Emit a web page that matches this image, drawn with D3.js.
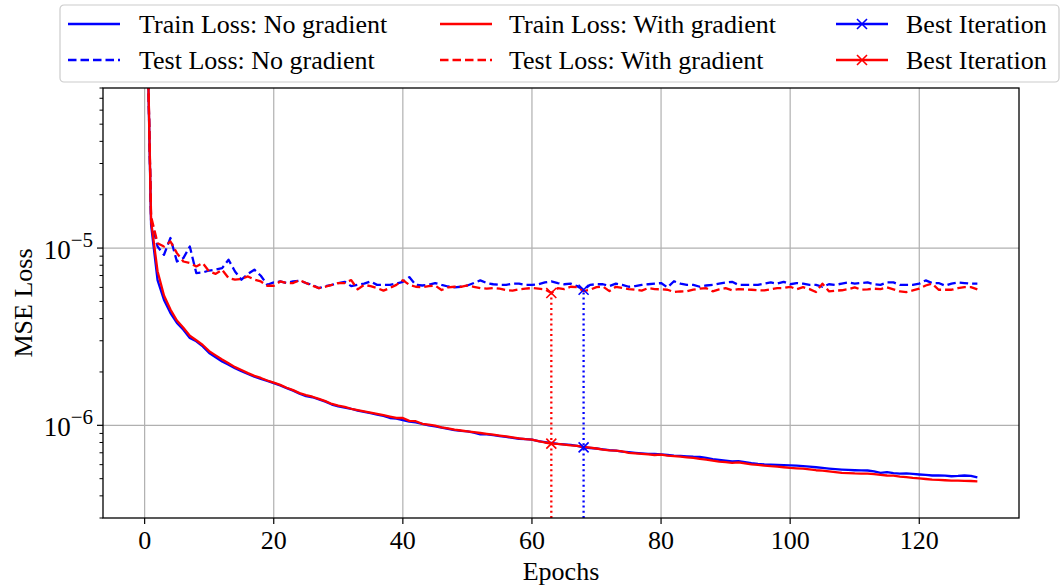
<!DOCTYPE html>
<html><head><meta charset="utf-8">
<script src="https://cdn.jsdelivr.net/npm/d3@7"></script>
<style>
body{margin:0;background:#fff}
svg text{font-family:"Liberation Serif","Times New Roman",serif;fill:#000}
</style>
</head><body>
<svg id="c" width="1062" height="587"></svg>
<script>
// values in units of 1e-6 (MSE loss)
const epochs = d3.range(0, 130);
const trainNoGrad = [1000, 13.5, 6.6, 5.1, 4.3, 3.78, 3.46, 3.11, 2.98, 2.79,
 2.56, 2.42, 2.29, 2.2, 2.1, 2.02, 1.95, 1.88, 1.83, 1.78,
 1.73, 1.68, 1.62, 1.57, 1.51, 1.46, 1.44, 1.40, 1.36, 1.31,
 1.28, 1.26, 1.24, 1.21, 1.19, 1.17, 1.15, 1.13, 1.10, 1.09,
 1.07, 1.05, 1.04, 1.02, 1.00, 0.985, 0.97, 0.955, 0.94, 0.93,
 0.925, 0.91, 0.89, 0.89, 0.88, 0.87, 0.86, 0.85, 0.84, 0.835,
 0.83, 0.815, 0.805, 0.795, 0.785, 0.78, 0.775, 0.765, 0.751, 0.745,
 0.74, 0.732, 0.725, 0.72, 0.71, 0.705, 0.70, 0.695, 0.69, 0.69,
 0.685, 0.68, 0.675, 0.672, 0.668, 0.665, 0.664, 0.655, 0.645, 0.638,
 0.632, 0.626, 0.628, 0.62, 0.612, 0.606, 0.602, 0.60, 0.598, 0.597,
 0.595, 0.592, 0.588, 0.584, 0.580, 0.575, 0.570, 0.566, 0.563, 0.560,
 0.558, 0.557, 0.556, 0.55, 0.539, 0.545, 0.537, 0.534, 0.535, 0.532,
 0.528, 0.525, 0.521, 0.521, 0.52, 0.516, 0.518, 0.521, 0.518, 0.509];
const trainWithGrad = [1000, 14.2, 7.4, 5.4, 4.5, 3.9, 3.55, 3.2, 3.02, 2.84,
 2.62, 2.48, 2.35, 2.24, 2.13, 2.05, 1.97, 1.9, 1.85, 1.79,
 1.74, 1.69, 1.63, 1.58, 1.52, 1.48, 1.45, 1.41, 1.37, 1.32,
 1.29, 1.27, 1.24, 1.22, 1.2, 1.18, 1.16, 1.14, 1.12, 1.10,
 1.10, 1.06, 1.055, 1.02, 1.01, 0.995, 0.975, 0.96, 0.945, 0.935,
 0.925, 0.915, 0.905, 0.895, 0.886, 0.875, 0.865, 0.855, 0.845, 0.835,
 0.83, 0.815, 0.80, 0.788, 0.785, 0.778, 0.77, 0.765, 0.755, 0.748,
 0.74, 0.73, 0.723, 0.72, 0.712, 0.70, 0.695, 0.69, 0.685, 0.68,
 0.684, 0.675, 0.67, 0.665, 0.66, 0.655, 0.646, 0.64, 0.632, 0.624,
 0.62, 0.614, 0.618, 0.61, 0.602, 0.598, 0.593, 0.588, 0.585, 0.58,
 0.575, 0.572, 0.57, 0.565, 0.558, 0.555, 0.55, 0.545, 0.539, 0.537,
 0.535, 0.534, 0.534, 0.53, 0.525, 0.521, 0.52, 0.514, 0.51, 0.505,
 0.502, 0.498, 0.494, 0.492, 0.49, 0.488, 0.488, 0.486, 0.485, 0.483];
const testNoGrad = [1000, 14.4, 10.2, 9.17, 11.4, 8.4, 8.78, 10.2, 7.23, 7.28,
 7.47, 7.55, 7.71, 8.59, 7.38, 6.63, 7.16, 7.55, 6.98, 6.21,
 6.4, 6.48, 6.35, 6.48, 6.55, 6.35, 6.2, 5.94, 6.1, 6.2,
 6.35, 6.45, 6.1, 6.2, 6.3, 6.48, 6.2, 6.2, 6.2, 6.3,
 6.45, 6.86, 6.2, 6.15, 6.2, 6.35, 6.2, 6.07, 6.0, 6.05,
 6.15, 6.35, 6.57, 6.35, 6.25, 6.2, 6.2, 6.3, 6.3, 6.2,
 6.2, 6.25, 6.4, 6.48, 6.35, 6.25, 6.3, 6.1, 5.82, 6.2,
 6.25, 6.25, 6.1, 6.3, 6.2, 6.05, 6.1, 6.2, 6.25, 6.3,
 6.35, 6.0, 6.5, 6.3, 6.2, 6.2, 6.05, 6.15, 6.2, 6.3,
 6.4, 6.45, 6.2, 6.2, 6.2, 6.2, 6.3, 6.4, 6.3, 6.45,
 6.25, 6.35, 6.3, 6.2, 6.2, 6.05, 6.25, 6.2, 6.3, 6.4,
 6.3, 6.35, 6.4, 6.25, 6.2, 6.4, 6.4, 6.2, 6.2, 6.2,
 6.3, 6.57, 6.35, 6.35, 6.13, 6.3, 6.4, 6.35, 6.3, 6.3];
const testWithGrad = [1000, 15.1, 10.66, 10.2, 10.9, 9.37, 8.4, 8.23, 7.88, 8.23,
 7.38, 7.15, 7.55, 6.78, 6.63, 6.7, 6.92, 6.63, 6.48, 6.13,
 6.13, 6.48, 6.35, 6.35, 6.6, 6.35, 6.13, 5.94, 6.05, 6.2,
 6.35, 6.35, 6.6, 5.85, 6.2, 6.1, 5.95, 5.75, 5.95, 6.2,
 6.6, 6.2, 6.05, 6.0, 6.1, 6.15, 5.8, 6.0, 6.05, 6.05,
 6.15, 6.05, 5.95, 5.9, 5.95, 5.9, 5.8, 5.75, 5.85, 5.9,
 5.95, 5.9, 5.85, 5.58, 5.94, 5.87, 6.05, 6.02, 5.72, 5.82,
 6.02, 6.07, 5.72, 6.05, 5.95, 5.87, 5.82, 5.75, 5.94, 5.87,
 5.85, 5.82, 5.65, 5.69, 5.7, 5.82, 5.9, 5.94, 5.7, 5.85,
 5.94, 5.78, 5.87, 5.85, 5.82, 5.78, 5.77, 5.85, 5.94, 5.95,
 6.05, 5.85, 6.02, 5.87, 5.65, 6.3, 5.7, 5.75, 5.78, 5.87,
 6.0, 5.82, 5.85, 5.9, 5.87, 6.0, 5.85, 5.69, 5.65, 5.77,
 5.9, 6.15, 6.3, 5.82, 5.82, 5.82, 5.94, 6.02, 6.02, 5.85];
const bestNoGrad = 68;
const bestWithGrad = 63;
const xTicks = [0, 20, 40, 60, 80, 100, 120];
const yMajorExp = [-6, -5];
const legendLabels = ["Train Loss: No gradient", "Test Loss: No gradient",
  "Train Loss: With gradient", "Test Loss: With gradient", "Best Iteration", "Best Iteration"];

const U = 1e-6;
const svg = d3.select("#c");
const L = 103, R = 1019, T = 88, B = 518;
const x = d3.scaleLinear().domain([-6.45, 135.45]).range([L, R]);
const y = d3.scaleLog().domain([3.0e-7, 8.0e-5]).range([B, T]);
const BLUE = "#0000ff", RED = "#ff0000", GRID = "#b0b0b0";
const DASH = "8.5,4";

svg.append("defs").append("clipPath").attr("id", "clip")
  .append("rect").attr("x", L).attr("y", T).attr("width", R - L).attr("height", B - T);

// grid
const g = svg.append("g");
xTicks.forEach(t => g.append("line").attr("x1", x(t)).attr("x2", x(t)).attr("y1", T).attr("y2", B)
  .attr("stroke", GRID).attr("stroke-width", 1.2));
yMajorExp.forEach(e => g.append("line").attr("x1", L).attr("x2", R).attr("y1", y(Math.pow(10, e))).attr("y2", y(Math.pow(10, e)))
  .attr("stroke", GRID).attr("stroke-width", 1.2));

const plot = svg.append("g").attr("clip-path", "url(#clip)");
const line = d3.line().x((d, i) => x(epochs[i])).y(d => y(d * U));

function drawSeries(arr, color, dash) {
  plot.append("path").datum(arr).attr("d", line).attr("fill", "none")
    .attr("stroke", color).attr("stroke-width", 2.3)
    .attr("stroke-dasharray", dash || null).attr("stroke-linejoin", "round");
}
drawSeries(trainNoGrad, BLUE);
drawSeries(testNoGrad, BLUE, DASH);
drawSeries(trainWithGrad, RED);
drawSeries(testWithGrad, RED, DASH);

function xMark(gr, cx, cy, color) {
  const s = 5;
  gr.append("path").attr("d", `M${cx - s},${cy - s}L${cx + s},${cy + s}M${cx - s},${cy + s}L${cx + s},${cy - s}`)
    .attr("stroke", color).attr("stroke-width", 1.6).attr("fill", "none");
}
function best(ep, tr, te, color) {
  plot.append("line").attr("x1", x(ep)).attr("x2", x(ep)).attr("y1", B).attr("y2", y(te[ep] * U))
    .attr("stroke", color).attr("stroke-width", 2.3).attr("stroke-dasharray", "2,3.2");
  xMark(plot, x(ep), y(tr[ep] * U), color);
  xMark(plot, x(ep), y(te[ep] * U), color);
}
best(bestWithGrad, trainWithGrad, testWithGrad, RED);
best(bestNoGrad, trainNoGrad, testNoGrad, BLUE);

// frame
svg.append("rect").attr("x", L).attr("y", T).attr("width", R - L).attr("height", B - T)
  .attr("fill", "none").attr("stroke", "#000").attr("stroke-width", 1.3);

// x ticks
xTicks.forEach(t => {
  svg.append("line").attr("x1", x(t)).attr("x2", x(t)).attr("y1", B).attr("y2", B + 6).attr("stroke", "#000").attr("stroke-width", 1.2);
  svg.append("text").attr("x", x(t)).attr("y", 549).attr("text-anchor", "middle").style("font-size", "26px").text(t);
});
// y ticks
const minor = [];
[-7, -6, -5].forEach(e => { for (let k = 2; k <= 9; k++) { const v = k * Math.pow(10, e); if (v >= 3e-7 && v <= 8e-5) minor.push(v); } });
minor.forEach(v => svg.append("line").attr("x1", L - 3.5).attr("x2", L).attr("y1", y(v)).attr("y2", y(v)).attr("stroke", "#000").attr("stroke-width", 1));
yMajorExp.forEach(e => {
  const yy = y(Math.pow(10, e));
  svg.append("line").attr("x1", L - 6).attr("x2", L).attr("y1", yy).attr("y2", yy).attr("stroke", "#000").attr("stroke-width", 1.2);
  const t = svg.append("text").attr("x", 93).attr("y", yy + 11).attr("text-anchor", "end").style("font-size", "27px");
  t.append("tspan").text("10");
  t.append("tspan").attr("dy", -12).style("font-size", "21px").text("\u2212" + Math.abs(e));
});

// axis labels
svg.append("text").attr("x", (L + R) / 2).attr("y", 580).attr("text-anchor", "middle").style("font-size", "26px").text("Epochs");
svg.append("text").attr("transform", "translate(32,303) rotate(-90)").attr("text-anchor", "middle").style("font-size", "26px").text("MSE Loss");

// legend
const lg = svg.append("g");
lg.append("rect").attr("x", 60).attr("y", 5).attr("width", 999).attr("height", 77).attr("rx", 4)
  .attr("fill", "#fff").attr("fill-opacity", 0.8).attr("stroke", "#cccccc").attr("stroke-width", 1.2);
const items = [
  {c: BLUE, dash: null, mk: false, lx: 68, tx: 139, ry: 24, label: legendLabels[0]},
  {c: BLUE, dash: DASH, mk: false, lx: 68, tx: 139, ry: 60, label: legendLabels[1]},
  {c: RED, dash: null, mk: false, lx: 440, tx: 509, ry: 24, label: legendLabels[2]},
  {c: RED, dash: DASH, mk: false, lx: 440, tx: 509, ry: 60, label: legendLabels[3]},
  {c: BLUE, dash: null, mk: true, lx: 836, tx: 906, ry: 24, label: legendLabels[4]},
  {c: RED, dash: null, mk: true, lx: 836, tx: 906, ry: 60, label: legendLabels[5]}
];
items.forEach(it => {
  lg.append("line").attr("x1", it.lx).attr("x2", it.lx + 52).attr("y1", it.ry).attr("y2", it.ry)
    .attr("stroke", it.c).attr("stroke-width", 2.3).attr("stroke-dasharray", it.dash);
  if (it.mk) xMark(lg, it.lx + 26, it.ry, it.c);
  lg.append("text").attr("x", it.tx).attr("y", it.ry + 8.5).style("font-size", "26px").text(it.label);
});
</script>
</body></html>
